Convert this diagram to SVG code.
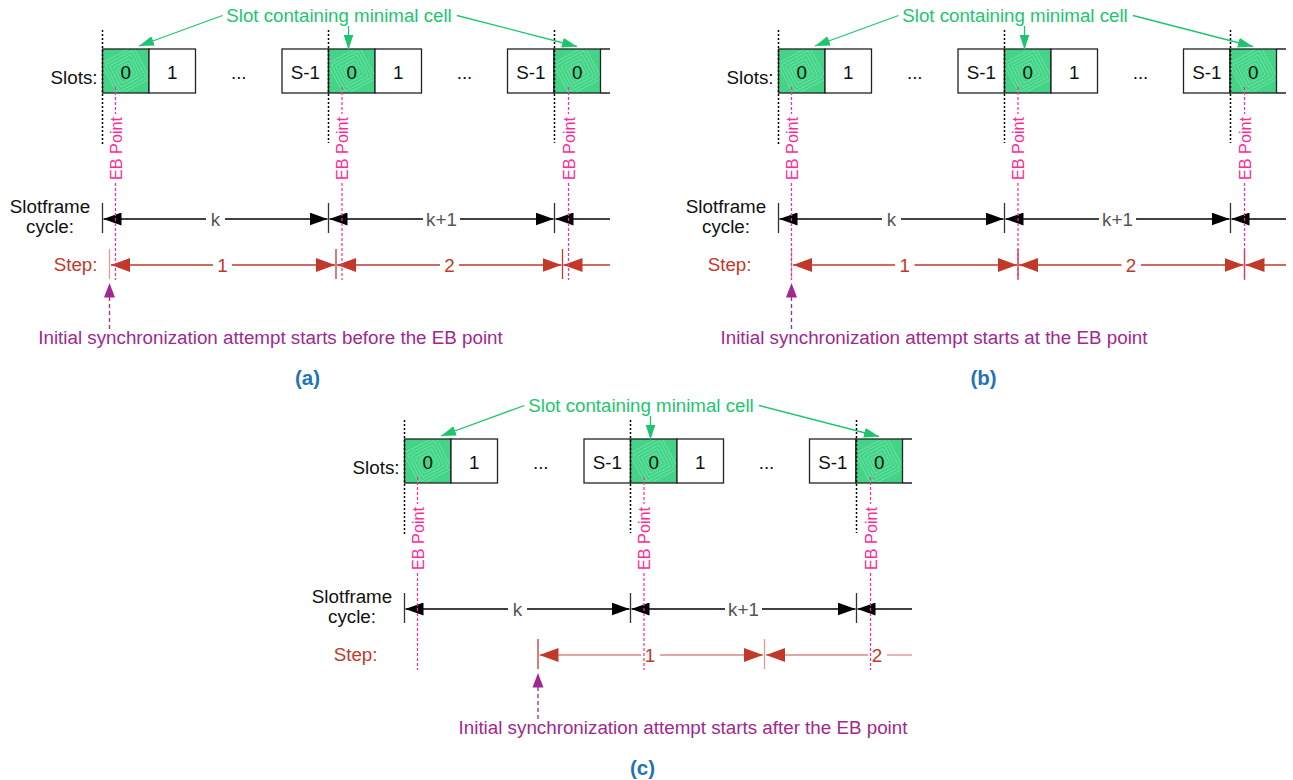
<svg xmlns="http://www.w3.org/2000/svg" xmlns:xlink="http://www.w3.org/1999/xlink" width="1293" height="780" viewBox="0 0 1293 780">
<style>
.t{font-family:"Liberation Sans",Arial,sans-serif;font-size:18.8px;fill:#111}
.c{text-anchor:middle}
.e{text-anchor:end}
.cell{fill:#fff;stroke:#222;stroke-width:1.3}
.dot{stroke:#000;stroke-width:1.5;stroke-dasharray:2 2}
.eb{stroke:#ff2b95;stroke-width:1.2;stroke-dasharray:3 2;fill:none}
.ebt{font-size:16.2px;fill:#ff2b95}
.tk{stroke:#333;stroke-width:1.3}
.kl{stroke:#000;stroke-width:1.3}
.rl{stroke:#c0392b;stroke-width:1.3}
.rll{stroke:#d98a82;stroke-width:1.3}
.rtk{stroke:#c0392b;stroke-width:1.3}
.rtkl{stroke:#e39b94;stroke-width:1.3}
.gl{stroke:#1dc56f;stroke-width:1.3;fill:none}
.gt{fill:#1dc56f;font-size:18.7px}
.pt{fill:#a0288f}
.pl{stroke:#a0288f;stroke-width:1.3;stroke-dasharray:4 3}
.red{fill:#c0392b}
.gray{fill:#555}
.lab{fill:#1f73b7;font-weight:bold;font-size:20.5px}
</style>
<defs>
<marker id="ak" viewBox="0 0 18 13" refX="18" refY="6.5" markerWidth="18" markerHeight="13" markerUnits="userSpaceOnUse" orient="auto-start-reverse"><path d="M0,0 L18,6.5 L0,13 z" fill="#000"/></marker>
<marker id="ar" viewBox="0 0 19 14" refX="19" refY="7" markerWidth="19" markerHeight="14" markerUnits="userSpaceOnUse" orient="auto-start-reverse"><path d="M0,0 L19,7 L0,14 z" fill="#c0392b"/></marker>
<marker id="ag" viewBox="0 0 15 10" refX="15" refY="5" markerWidth="15" markerHeight="10" markerUnits="userSpaceOnUse" orient="auto"><path d="M0,0 L15,5 L0,10 z" fill="#1dc56f"/></marker>
<clipPath id="cc"><rect width="46.5" height="44"/></clipPath>
<g id="gcell">
<rect width="46.5" height="44" fill="#45d487"/>
<g clip-path="url(#cc)"><g transform="rotate(-28 23.25 22)" fill="none" stroke="#72e8aa" stroke-width="0.7">
<rect x="5.25" y="4" width="36" height="36"/><rect x="8.25" y="7" width="30" height="30"/><rect x="11.25" y="10" width="24" height="24"/><rect x="14.25" y="13" width="18" height="18"/><rect x="17.25" y="16" width="12" height="12"/>
</g></g>
<rect width="46.5" height="44" fill="none" stroke="#222" stroke-width="1.3"/>
</g>
</defs>
<rect width="1293" height="780" fill="#fff"/>

<!-- ================= PANEL (a) ================= -->
<g id="panel-a">
<g id="a-slots">
<text class="t e" x="97.5" y="83.5">Slots:</text>
<use href="#gcell" x="102.5" y="49"/>
<rect class="cell" x="149" y="49" width="46.5" height="44"/>
<rect class="cell" x="282" y="49" width="46.5" height="44"/>
<use href="#gcell" x="328.5" y="49"/>
<rect class="cell" x="375" y="49" width="46.5" height="44"/>
<rect class="cell" x="507.5" y="49" width="46.5" height="44"/>
<use href="#gcell" x="554" y="49"/>
<path d="M600.5,49 H610 M600.5,93 H610" stroke="#222" stroke-width="1.3"/>
<text class="t c" x="125.75" y="78.5">0</text>
<text class="t c" x="172.25" y="78.5">1</text>
<text class="t c" x="238.75" y="78.5">...</text>
<text class="t c" x="305.25" y="78.5">S-1</text>
<text class="t c" x="351.75" y="78.5">0</text>
<text class="t c" x="398.25" y="78.5">1</text>
<text class="t c" x="464.5" y="78.5">...</text>
<text class="t c" x="530.75" y="78.5">S-1</text>
<text class="t c" x="577.25" y="78.5">0</text>
<line class="dot" x1="102.5" y1="30" x2="102.5" y2="145"/>
<line class="dot" x1="328.5" y1="30" x2="328.5" y2="143"/>
<line class="dot" x1="554.5" y1="30" x2="554.5" y2="143"/>
</g>
<g id="a-minimal-cell-label">
<text class="t gt c" x="339" y="22">Slot containing minimal cell</text>
<line class="gl" x1="222.5" y1="15.5" x2="139" y2="46" marker-end="url(#ag)"/>
<line class="gl" x1="348.5" y1="26" x2="348.5" y2="49.5" marker-end="url(#ag)"/>
<line class="gl" x1="457" y1="15.5" x2="577" y2="46.5" marker-end="url(#ag)"/>
</g>
<g id="a-slotframe">
<text class="t c" x="50" y="213">Slotframe</text>
<text class="t c" x="50" y="233">cycle:</text>
<line class="tk" x1="102.5" y1="203" x2="102.5" y2="233"/>
<line class="tk" x1="328.5" y1="203" x2="328.5" y2="233"/>
<line class="tk" x1="554.5" y1="203" x2="554.5" y2="233"/>
<line class="kl" x1="103.5" y1="219" x2="206" y2="219" marker-start="url(#ak)"/>
<line class="kl" x1="225" y1="219" x2="327.5" y2="219" marker-end="url(#ak)"/>
<text class="t c gray" x="215.5" y="225.5">k</text>
<line class="kl" x1="329.5" y1="219" x2="423" y2="219" marker-start="url(#ak)"/>
<line class="kl" x1="460" y1="219" x2="553.5" y2="219" marker-end="url(#ak)"/>
<text class="t c gray" x="441.5" y="225.5">k+1</text>
<line class="kl" x1="555.5" y1="219" x2="610" y2="219" marker-start="url(#ak)"/>
</g>
<g id="a-step">
<text class="t e red" x="97.5" y="271">Step:</text>
<line class="rtkl" x1="109.5" y1="249" x2="109.5" y2="279"/>
<line class="rtk" x1="336" y1="249" x2="336" y2="279"/>
<line class="rtk" x1="562.5" y1="249" x2="562.5" y2="279"/>
<line class="rl" x1="111" y1="265" x2="213" y2="265" marker-start="url(#ar)"/>
<line class="rl" x1="232" y1="265" x2="335" y2="265" marker-end="url(#ar)"/>
<text class="t c red" x="222.5" y="271.5">1</text>
<line class="rl" x1="337" y1="265" x2="440" y2="265" marker-start="url(#ar)"/>
<line class="rl" x1="459" y1="265" x2="561.5" y2="265" marker-end="url(#ar)"/>
<text class="t c red" x="449.5" y="271.5">2</text>
<line class="rl" x1="563.5" y1="265" x2="610" y2="265" marker-start="url(#ar)"/>
</g>
<g id="a-eb-points">
<path class="eb" d="M115.5,87 V114 M115.5,183 V280 M342,87 V114 M342,183 V280 M568.5,87 V114 M568.5,183 V280"/>
<text class="t ebt c" transform="translate(121.5,148.5) rotate(-90)">EB Point</text>
<text class="t ebt c" transform="translate(348,148.5) rotate(-90)">EB Point</text>
<text class="t ebt c" transform="translate(574.5,148.5) rotate(-90)">EB Point</text>
</g>
<g id="a-sync">
<polygon class="pt" points="109.5,283 104,297.5 115,297.5"/>
<line class="pl" x1="109.5" y1="297" x2="109.5" y2="329"/>
<text class="t pt c" x="270.5" y="344">Initial synchronization attempt starts before the EB point</text>
</g>
<text class="t lab c" x="307.5" y="384.5">(a)</text>
</g>

<!-- ================= PANEL (b) ================= -->
<g id="panel-b" transform="translate(676,0)">
<g id="b-slots">
<text class="t e" x="97.5" y="83.5">Slots:</text>
<use href="#gcell" x="102.5" y="49"/>
<rect class="cell" x="149" y="49" width="46.5" height="44"/>
<rect class="cell" x="282" y="49" width="46.5" height="44"/>
<use href="#gcell" x="328.5" y="49"/>
<rect class="cell" x="375" y="49" width="46.5" height="44"/>
<rect class="cell" x="507.5" y="49" width="46.5" height="44"/>
<use href="#gcell" x="554" y="49"/>
<path d="M600.5,49 H610 M600.5,93 H610" stroke="#222" stroke-width="1.3"/>
<text class="t c" x="125.75" y="78.5">0</text>
<text class="t c" x="172.25" y="78.5">1</text>
<text class="t c" x="238.75" y="78.5">...</text>
<text class="t c" x="305.25" y="78.5">S-1</text>
<text class="t c" x="351.75" y="78.5">0</text>
<text class="t c" x="398.25" y="78.5">1</text>
<text class="t c" x="464.5" y="78.5">...</text>
<text class="t c" x="530.75" y="78.5">S-1</text>
<text class="t c" x="577.25" y="78.5">0</text>
<line class="dot" x1="102.5" y1="30" x2="102.5" y2="145"/>
<line class="dot" x1="328.5" y1="30" x2="328.5" y2="143"/>
<line class="dot" x1="554.5" y1="30" x2="554.5" y2="143"/>
</g>
<g id="b-minimal-cell-label">
<text class="t gt c" x="339" y="22">Slot containing minimal cell</text>
<line class="gl" x1="222.5" y1="15.5" x2="139" y2="46" marker-end="url(#ag)"/>
<line class="gl" x1="348.5" y1="26" x2="348.5" y2="49.5" marker-end="url(#ag)"/>
<line class="gl" x1="457" y1="15.5" x2="577" y2="46.5" marker-end="url(#ag)"/>
</g>
<g id="b-slotframe">
<text class="t c" x="50" y="213">Slotframe</text>
<text class="t c" x="50" y="233">cycle:</text>
<line class="tk" x1="102.5" y1="203" x2="102.5" y2="233"/>
<line class="tk" x1="328.5" y1="203" x2="328.5" y2="233"/>
<line class="tk" x1="554.5" y1="203" x2="554.5" y2="233"/>
<line class="kl" x1="103.5" y1="219" x2="206" y2="219" marker-start="url(#ak)"/>
<line class="kl" x1="225" y1="219" x2="327.5" y2="219" marker-end="url(#ak)"/>
<text class="t c gray" x="215.5" y="225.5">k</text>
<line class="kl" x1="329.5" y1="219" x2="423" y2="219" marker-start="url(#ak)"/>
<line class="kl" x1="460" y1="219" x2="553.5" y2="219" marker-end="url(#ak)"/>
<text class="t c gray" x="441.5" y="225.5">k+1</text>
<line class="kl" x1="555.5" y1="219" x2="610" y2="219" marker-start="url(#ak)"/>
</g>
<g id="b-step">
<text class="t e red" x="75.5" y="271">Step:</text>
<line class="rtkl" x1="115.5" y1="249" x2="115.5" y2="279"/>
<line class="rtk" x1="342" y1="249" x2="342" y2="279"/>
<line class="rtk" x1="568.5" y1="249" x2="568.5" y2="279"/>
<line class="rl" x1="117" y1="265" x2="219" y2="265" marker-start="url(#ar)"/>
<line class="rl" x1="238.5" y1="265" x2="341" y2="265" marker-end="url(#ar)"/>
<text class="t c red" x="228.75" y="271.5">1</text>
<line class="rl" x1="343" y1="265" x2="445.5" y2="265" marker-start="url(#ar)"/>
<line class="rl" x1="465" y1="265" x2="567.5" y2="265" marker-end="url(#ar)"/>
<text class="t c red" x="455" y="271.5">2</text>
<line class="rl" x1="569.5" y1="265" x2="610" y2="265" marker-start="url(#ar)"/>
</g>
<g id="b-eb-points">
<path class="eb" d="M115.5,87 V114 M115.5,183 V280 M342,87 V114 M342,183 V280 M568.5,87 V114 M568.5,183 V280"/>
<text class="t ebt c" transform="translate(121.5,148.5) rotate(-90)">EB Point</text>
<text class="t ebt c" transform="translate(348,148.5) rotate(-90)">EB Point</text>
<text class="t ebt c" transform="translate(574.5,148.5) rotate(-90)">EB Point</text>
</g>
<g id="b-sync">
<polygon class="pt" points="115.5,283 110,297.5 121,297.5"/>
<line class="pl" x1="115.5" y1="297" x2="115.5" y2="329"/>
<text class="t pt c" x="258" y="344">Initial synchronization attempt starts at the EB point</text>
</g>
<text class="t lab c" x="307.5" y="384.5">(b)</text>
</g>

<!-- ================= PANEL (c) ================= -->
<g id="panel-c" transform="translate(302,390)">
<g id="c-slots">
<text class="t e" x="97.5" y="83.5">Slots:</text>
<use href="#gcell" x="102.5" y="49"/>
<rect class="cell" x="149" y="49" width="46.5" height="44"/>
<rect class="cell" x="282" y="49" width="46.5" height="44"/>
<use href="#gcell" x="328.5" y="49"/>
<rect class="cell" x="375" y="49" width="46.5" height="44"/>
<rect class="cell" x="507.5" y="49" width="46.5" height="44"/>
<use href="#gcell" x="554" y="49"/>
<path d="M600.5,49 H610 M600.5,93 H610" stroke="#222" stroke-width="1.3"/>
<text class="t c" x="125.75" y="78.5">0</text>
<text class="t c" x="172.25" y="78.5">1</text>
<text class="t c" x="238.75" y="78.5">...</text>
<text class="t c" x="305.25" y="78.5">S-1</text>
<text class="t c" x="351.75" y="78.5">0</text>
<text class="t c" x="398.25" y="78.5">1</text>
<text class="t c" x="464.5" y="78.5">...</text>
<text class="t c" x="530.75" y="78.5">S-1</text>
<text class="t c" x="577.25" y="78.5">0</text>
<line class="dot" x1="102.5" y1="30" x2="102.5" y2="145"/>
<line class="dot" x1="328.5" y1="30" x2="328.5" y2="143"/>
<line class="dot" x1="554.5" y1="30" x2="554.5" y2="143"/>
</g>
<g id="c-minimal-cell-label">
<text class="t gt c" x="339" y="22">Slot containing minimal cell</text>
<line class="gl" x1="222.5" y1="15.5" x2="139" y2="46" marker-end="url(#ag)"/>
<line class="gl" x1="348.5" y1="26" x2="348.5" y2="49.5" marker-end="url(#ag)"/>
<line class="gl" x1="457" y1="15.5" x2="577" y2="46.5" marker-end="url(#ag)"/>
</g>
<g id="c-slotframe">
<text class="t c" x="50" y="213">Slotframe</text>
<text class="t c" x="50" y="233">cycle:</text>
<line class="tk" x1="102.5" y1="203" x2="102.5" y2="233"/>
<line class="tk" x1="328.5" y1="203" x2="328.5" y2="233"/>
<line class="tk" x1="554.5" y1="203" x2="554.5" y2="233"/>
<line class="kl" x1="103.5" y1="219" x2="206" y2="219" marker-start="url(#ak)"/>
<line class="kl" x1="225" y1="219" x2="327.5" y2="219" marker-end="url(#ak)"/>
<text class="t c gray" x="215.5" y="225.5">k</text>
<line class="kl" x1="329.5" y1="219" x2="423" y2="219" marker-start="url(#ak)"/>
<line class="kl" x1="460" y1="219" x2="553.5" y2="219" marker-end="url(#ak)"/>
<text class="t c gray" x="441.5" y="225.5">k+1</text>
<line class="kl" x1="555.5" y1="219" x2="610" y2="219" marker-start="url(#ak)"/>
</g>
<g id="c-step">
<text class="t e red" x="75.5" y="271">Step:</text>
<line class="rtk" x1="236" y1="249" x2="236" y2="279"/>
<line class="rtkl" x1="462.5" y1="249" x2="462.5" y2="279"/>
<line class="rll" x1="237.5" y1="265" x2="339" y2="265" marker-start="url(#ar)"/>
<line class="rll" x1="358" y1="265" x2="461" y2="265" marker-end="url(#ar)"/>
<text class="t c red" x="348" y="271.5">1</text>
<line class="rll" x1="464" y1="265" x2="566" y2="265" marker-start="url(#ar)"/>
<text class="t c red" x="575" y="271.5">2</text>
<line class="rll" x1="585" y1="265" x2="610" y2="265"/>
</g>
<g id="c-eb-points">
<path class="eb" d="M115.5,87 V114 M115.5,183 V280 M342,87 V114 M342,183 V280 M568.5,87 V114 M568.5,183 V280"/>
<text class="t ebt c" transform="translate(121.5,148.5) rotate(-90)">EB Point</text>
<text class="t ebt c" transform="translate(348,148.5) rotate(-90)">EB Point</text>
<text class="t ebt c" transform="translate(574.5,148.5) rotate(-90)">EB Point</text>
</g>
<g id="c-sync">
<polygon class="pt" points="236,283 230.5,297.5 241.5,297.5"/>
<line class="pl" x1="236" y1="297" x2="236" y2="329"/>
<text class="t pt c" x="381" y="344">Initial synchronization attempt starts after the EB point</text>
</g>
<text class="t lab c" x="340.5" y="384.5">(c)</text>
</g>
</svg>
